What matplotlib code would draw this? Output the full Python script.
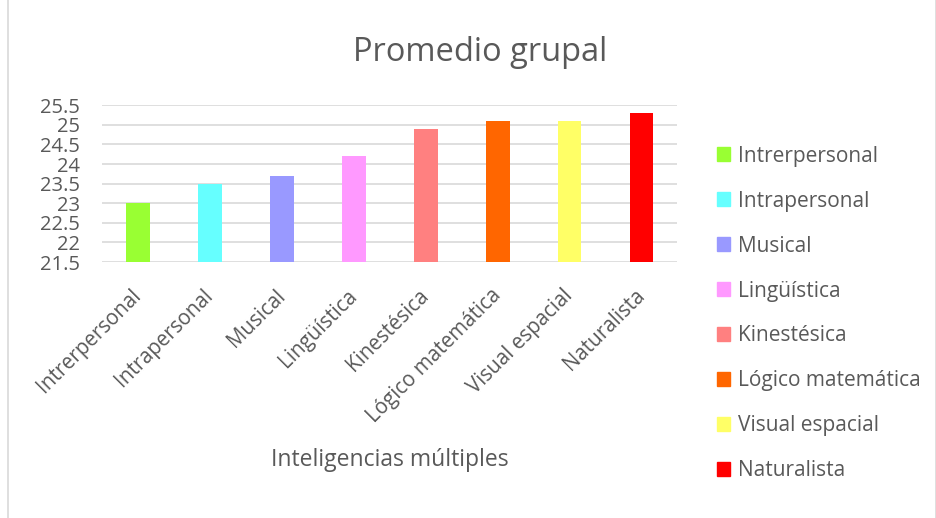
import matplotlib
matplotlib.use("Agg")
import matplotlib.pyplot as plt
from matplotlib.patches import Rectangle, Patch

# datos
categorias = ["Intrerpersonal", "Intrapersonal", "Musical", "Lingüística",
              "Kinestésica", "Lógico matemática", "Visual espacial", "Naturalista"]
promedios = [23.0, 23.5, 23.7, 24.2, 24.9, 25.1, 25.1, 25.3]
colores = ["#99FF33", "#66FFFF", "#9999FF", "#FF99FF",
           "#FF8080", "#FF6600", "#FFFF66", "#FF0000"]
y_ticks = [21.5, 22, 22.5, 23, 23.5, 24, 24.5, 25, 25.5]

plt.rcParams['font.family'] = ['Open Sans', 'DejaVu Sans']
gris = "#595959"

fig = plt.figure(figsize=(9.37, 5.18), dpi=100)
fig.patches.append(Rectangle((0.009, -0.01), 0.99, 1.02, transform=fig.transFigure,
                             fill=False, edgecolor="#D9D9D9", linewidth=1.2))
ax = fig.add_axes([0.109, 0.494, 0.614, 0.303])

x = range(len(categorias))
ax.bar(x, [p - 21.5 for p in promedios], bottom=21.5, width=0.33, color=colores, zorder=3)

ax.set_ylim(21.5, 25.5)
ax.set_xlim(-0.5, len(categorias) - 0.5)
ax.set_yticks(y_ticks)
ax.set_yticklabels([f"{t:g}" for t in y_ticks], fontsize=14.5, color=gris)
ax.yaxis.grid(True, color="#D9D9D9", linewidth=1.2, zorder=0)
ax.set_xticks(list(x))
ax.set_xticklabels(categorias, rotation=45, ha="right", va="center",
                   rotation_mode="anchor", fontsize=14.8, color=gris)
ax.tick_params(axis="y", length=0, pad=16)
ax.tick_params(axis="x", length=0, pad=22)
for s in ax.spines.values():
    s.set_visible(False)

ax.set_xlabel("Inteligencias múltiples", fontsize=16.5, color=gris, va="center")
ax.xaxis.set_label_coords(0.5, -1.26)
fig.text(0.512, 0.898, "Promedio grupal", ha="center", va="center", fontsize=23.5, color=gris)

handles = [Patch(color=c, label=n) for c, n in zip(colores, categorias)]
fig.legend(handles=handles, loc="upper left", bbox_to_anchor=(0.745, 0.755),
           frameon=False, fontsize=15, labelcolor=gris, handlelength=0.65,
           handleheight=0.65, handletextpad=0.35, labelspacing=1.15)

fig.savefig("out.png", dpi=100)
